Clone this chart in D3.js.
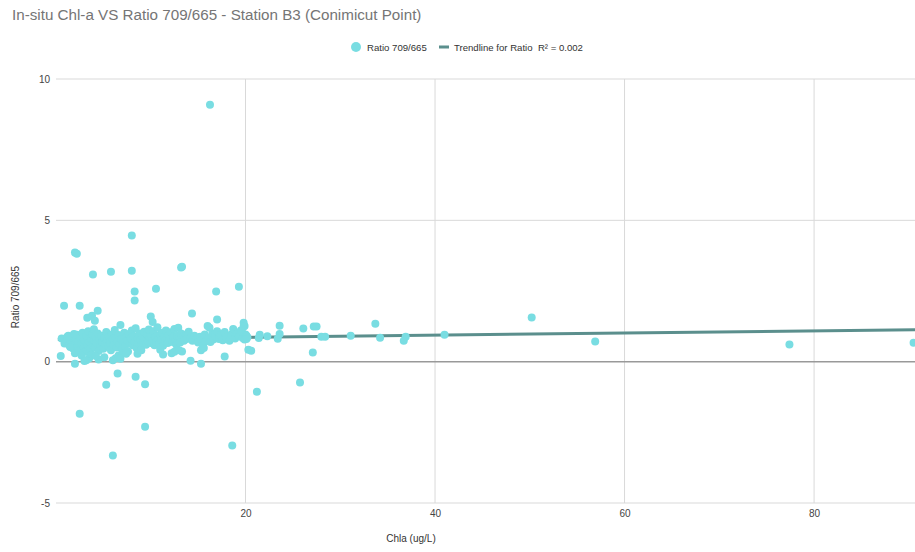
<!DOCTYPE html>
<html>
<head>
<meta charset="utf-8">
<script src="https://cdn.jsdelivr.net/npm/d3@7"></script>
<style>
  html, body { margin: 0; padding: 0; background: #fff; }
  svg { display: block; font-family: Arial, "Liberation Sans", sans-serif; }
</style>
</head>
<body>
<svg id="chart" width="915" height="552"></svg>
<script>
// Station B3 (Conimicut Point): in-situ chlorophyll-a vs 709/665 reflectance ratio
const chla = [
  // outliers
  16.25, 2.0, 2.2, 8.0, 3.9, 5.8, 8.0, 13.2, 13.3, 0.85, 2.5, 8.3, 8.3, 10.55, 16.9, 19.3,
  3.3, 3.8, 4.4, 4.1, 14.35, 17.0,
  0.5, 2.0, 2.5, 5.3, 6.5, 8.4, 9.4, 9.4, 6.0, 18.6, 21.2, 25.75, 14.2, 15.3, 17.8, 20.3, 27.1,
  // 0-2
  0.6, 0.9, 1.1, 1.3, 1.4, 1.6, 1.7, 1.8, 1.9, 2.0, 2.0, 2.1, 1.5, 1.2,
  // 2-4
  2.2, 2.3, 2.4, 2.5, 2.6, 2.7, 2.8, 2.9, 3.0, 3.1, 3.2, 3.3, 3.4, 3.5, 3.6, 3.7, 3.8, 3.9, 4.0,
  3.5, 3.2, 3.8, 2.7, 3.0, 4.0,
  // 4-6
  4.1, 4.2, 4.3, 4.4, 4.5, 4.6, 4.7, 4.8, 4.9, 5.0, 5.1, 5.2, 5.3, 5.4, 5.5, 5.6, 5.7, 5.8, 5.9, 6.0,
  4.5, 5.1, 4.2, 6.0,
  // 6-8
  6.1, 6.2, 6.3, 6.4, 6.5, 6.6, 6.7, 6.8, 6.9, 7.0, 7.1, 7.2, 7.3, 7.4, 7.5, 7.6, 7.7, 7.8, 7.9, 8.0,
  6.3, 6.6, 7.0, 6.8, 7.4,
  // 8-10
  8.1, 8.2, 8.3, 8.4, 8.5, 8.6, 8.7, 8.8, 8.9, 9.0, 9.1, 9.2, 9.3, 9.4, 9.5, 9.6, 9.7, 9.8, 9.9, 10.0,
  8.6, 9.0,
  // 10-12
  10.1, 10.2, 10.3, 10.4, 10.5, 10.6, 10.7, 10.8, 10.9, 11.0, 11.1, 11.2, 11.3, 11.4, 11.5, 11.6, 11.7, 11.8, 11.9, 12.0,
  10.2, 10.0, 11.3, 12.2, 11.0,
  // 12-14
  12.1, 12.3, 12.4, 12.5, 12.6, 12.7, 12.8, 12.9, 13.0, 13.1, 13.2, 13.3, 13.4, 13.5, 13.7, 13.8, 14.0,
  12.5, 13.0,
  // 14-17
  14.2, 14.4, 14.6, 14.8, 15.0, 15.2, 15.4, 15.5, 15.7, 15.8, 16.0, 16.1, 16.3, 16.5, 16.6, 16.8, 17.0,
  15.3, 15.6, 16.2,
  // 17-20
  17.2, 17.4, 17.6, 17.8, 18.0, 18.3, 18.5, 18.7, 18.9, 19.1, 19.3, 19.5, 19.7, 19.9, 20.0, 20.2,
  // above 20
  19.8, 19.8, 19.6, 20.1, 19.9, 20.6, 20.1, 21.5, 21.4, 22.3, 23.6, 23.6, 23.4, 26.1, 27.2, 27.5,
  28.0, 28.4, 31.1, 33.7, 34.2, 36.9, 36.7, 41.0, 50.2, 56.9, 77.4, 90.5
];
const ratio = [
  // outliers
  9.09, 3.86, 3.82, 4.46, 3.08, 3.18, 3.22, 3.33, 3.36, 1.98, 1.98, 2.48, 2.16, 2.58, 2.48, 2.65,
  1.55, 1.62, 1.80, 1.45, 1.70, 1.49,
  0.20, -0.07, -1.84, -0.82, -0.42, -0.53, -0.80, -2.30, -3.32, -2.97, -1.06, -0.74, 0.03, -0.07, 0.18, 0.42, 0.32,
  // 0-2
  0.82, 0.64, 0.75, 0.92, 0.58, 0.70, 0.85, 0.47, 0.98, 0.62, 0.30, 0.78, 0.52, 0.88,
  // 2-4
  0.95, 0.55, 0.72, 0.40, 0.85, 0.64, 1.02, 0.50, 0.76, 0.35, 0.90, 0.60, 1.08, 0.70, 0.44, 0.82, 0.96, 0.58, 0.74,
  0.12, 0.05, 0.25, 0.22, 0.02, 1.15,
  // 4-6
  0.50, 0.86, 0.66, 1.00, 0.38, 0.78, 0.58, 0.92, 0.70, 0.46, 0.84, 0.62, 1.05, 0.74, 0.55, 0.88, 0.68, 0.40, 0.96, 0.78,
  0.08, 0.16, 0.20, 0.05,
  // 6-8
  0.60, 1.12, 0.84, 0.50, 0.72, 0.94, 0.62, 1.30, 0.80, 0.44, 0.68, 1.02, 0.56, 0.86, 0.74, 0.36, 0.98, 0.64, 0.82, 1.10,
  0.12, 0.22, 0.30, 0.10, 0.28,
  // 8-10
  0.58, 0.90, 0.70, 1.18, 0.48, 0.82, 0.64, 1.00, 0.76, 0.54, 0.92, 0.68, 1.06, 0.80, 0.60, 0.96, 0.72, 1.14, 0.84, 0.66,
  0.28, 0.40,
  // 10-12
  0.90, 0.74, 1.08, 0.58, 0.86, 0.70, 1.22, 0.80, 0.62, 0.96, 0.76, 1.02, 0.56, 0.88, 0.72, 1.10, 0.84, 0.66, 0.94, 0.78,
  1.40, 1.60, 0.25, 0.30, 0.42,
  // 12-14
  1.04, 0.70, 0.88, 1.16, 0.76, 0.60, 0.92, 1.20, 0.82, 0.68, 1.00, 0.36, 0.86, 0.74, 0.96, 0.80, 1.06,
  0.35, 0.40,
  // 14-17
  0.84, 0.74, 0.92, 0.80, 0.68, 0.88, 0.76, 0.58, 0.96, 0.72, 1.26, 0.84, 0.70, 1.00, 0.78, 0.90, 1.08,
  0.40, 0.48, 1.20,
  // 17-20
  0.80, 0.94, 0.76, 1.05, 0.86, 0.74, 0.96, 1.16, 0.82, 1.00, 0.90, 1.10, 0.84, 1.26, 0.96, 0.86,
  // above 20
  1.38, 1.24, 1.06, 0.92, 0.78, 0.39, 0.80, 0.95, 0.84, 0.90, 1.27, 0.98, 0.81, 1.17, 1.24, 1.24,
  0.88, 0.88, 0.92, 1.34, 0.85, 0.88, 0.74, 0.95, 1.56, 0.71, 0.61, 0.67
];

// Linear trendline (Ratio = intercept + slope * Chla)
const trendIntercept = 0.785;
const trendSlope = 0.0038;
const trendR2 = "0.002";

const xTicks = [20, 40, 60, 80];
const yTicks = [-5, 0, 5, 10];

const title = "In-situ Chl-a VS Ratio 709/665 - Station B3 (Conimicut Point)";
const xLabel = "Chla (ug/L)";
const yLabel = "Ratio 709/665";
const seriesName = "Ratio 709/665";
const trendName = "Trendline for Ratio\u00A0\u00A0R\u00B2 = " + trendR2;

const pointColor = "#79dde2";
const trendColor = "#5b8f8d";

const svg = d3.select("#chart");
const plot = { left: 56, right: 915, top: 79, bottom: 503 };

const x = d3.scaleLinear().domain([0, 90.65]).range([plot.left, plot.right]);
const y = d3.scaleLinear().domain([-5, 10]).range([plot.bottom, plot.top]);

// title
svg.append("text")
  .attr("x", 12).attr("y", 20)
  .attr("font-size", 15.2)
  .attr("fill", "#757575")
  .text(title);

// gridlines
const g = svg.append("g");
g.selectAll("line.hgrid").data(yTicks.filter(d => d !== 0)).join("line")
  .attr("class", "hgrid")
  .attr("x1", plot.left).attr("x2", plot.right)
  .attr("y1", d => y(d)).attr("y2", d => y(d))
  .attr("stroke", "#d9d9d9").attr("stroke-width", 1);
g.selectAll("line.vgrid").data(xTicks).join("line")
  .attr("class", "vgrid")
  .attr("x1", d => x(d)).attr("x2", d => x(d))
  .attr("y1", plot.top).attr("y2", plot.bottom)
  .attr("stroke", "#d9d9d9").attr("stroke-width", 1);

// zero baseline
g.append("line")
  .attr("x1", plot.left).attr("x2", plot.right)
  .attr("y1", y(0)).attr("y2", y(0))
  .attr("stroke", "#999").attr("stroke-width", 1.5);

// axis tick labels (plain hyphen for negatives)
const fmt = d => String(d);
const yAxis = d3.axisLeft(y).tickValues(yTicks).tickFormat(fmt).tickSize(0).tickPadding(6);
svg.append("g")
  .attr("transform", `translate(${plot.left},0)`)
  .call(yAxis)
  .call(a => a.select(".domain").remove())
  .call(a => a.selectAll("text").attr("font-size", 10).attr("fill", "#444").attr("font-family", "Arial, 'Liberation Sans', sans-serif"));

const xAxis = d3.axisBottom(x).tickValues(xTicks).tickFormat(fmt).tickSize(0).tickPadding(7);
svg.append("g")
  .attr("transform", `translate(0,${plot.bottom})`)
  .call(xAxis)
  .call(a => a.select(".domain").remove())
  .call(a => a.selectAll("text").attr("font-size", 10).attr("fill", "#444").attr("font-family", "Arial, 'Liberation Sans', sans-serif"));

// axis titles
svg.append("text")
  .attr("x", 411).attr("y", 542)
  .attr("text-anchor", "middle")
  .attr("font-size", 10).attr("fill", "#333")
  .text(xLabel);
svg.append("text")
  .attr("transform", `translate(19,297) rotate(-90)`)
  .attr("text-anchor", "middle")
  .attr("font-size", 10).attr("fill", "#333")
  .text(yLabel);

// trendline (behind the points)
const tx0 = 0.2, tx1 = 90.65;
svg.append("line")
  .attr("x1", x(tx0)).attr("y1", y(trendIntercept + trendSlope * tx0))
  .attr("x2", x(tx1)).attr("y2", y(trendIntercept + trendSlope * tx1))
  .attr("stroke", trendColor).attr("stroke-width", 3);

// scatter points
const pts = chla.map((c, i) => ({ c, r: ratio[i] }));
svg.append("g").selectAll("circle").data(pts).join("circle")
  .attr("cx", d => x(d.c))
  .attr("cy", d => y(d.r))
  .attr("r", 4)
  .attr("fill", pointColor);

// legend
const leg = svg.append("g");
leg.append("circle").attr("cx", 356).attr("cy", 47).attr("r", 5).attr("fill", pointColor);
leg.append("text").attr("x", 367).attr("y", 50.5)
  .attr("font-size", 9.6).attr("fill", "#333").text(seriesName);
leg.append("rect").attr("x", 439).attr("y", 45.5).attr("width", 10).attr("height", 3).attr("fill", trendColor);
leg.append("text").attr("x", 454).attr("y", 50.5)
  .attr("font-size", 9.6).attr("fill", "#333").text(trendName);
</script>
</body>
</html>
